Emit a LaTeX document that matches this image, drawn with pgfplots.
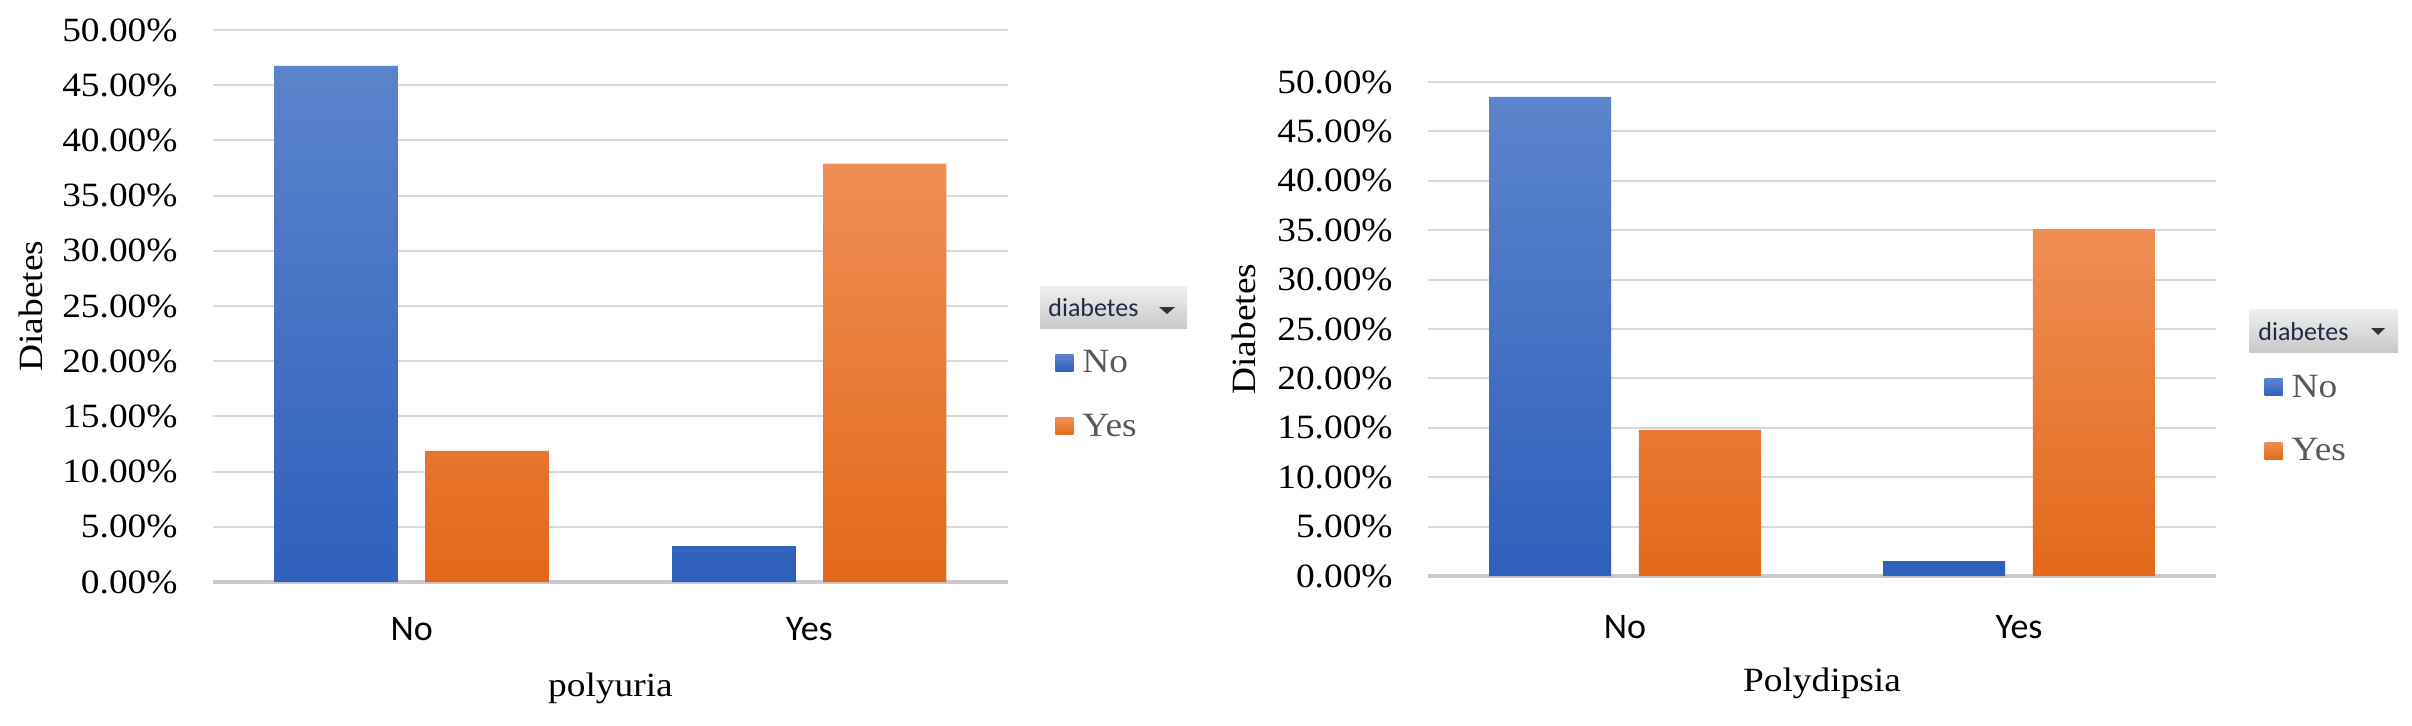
\documentclass[border=0pt]{standalone}
\usepackage{fontspec}
\setmainfont{Liberation Serif}[FakeStretch=1.1]
\newfontfamily\calibri{Carlito}
\usepackage{pgfplots}
\pgfplotsset{compat=1.18}

\definecolor{bluetop}{HTML}{5B84CC}
\definecolor{bluebot}{HTML}{2E60BC}
\definecolor{orgtop}{HTML}{EF8E55}
\definecolor{orgbot}{HTML}{E3691A}
\definecolor{gridc}{HTML}{D9D9D9}
\definecolor{basec}{HTML}{CACACA}
\definecolor{leggray}{HTML}{595959}
\definecolor{hdrtop}{HTML}{F0F0F0}
\definecolor{hdrbot}{HTML}{C8C8C8}
\definecolor{hdrtext}{HTML}{1F2A44}

\pgfplotsset{
  diab/.style={
    scale only axis,
    ymin=0, ymax=50,
    xmin=-0.5, xmax=1.5,
    xtick={0,1}, xticklabels={No,Yes},
    ytick={0,5,...,50},
    yticklabel={\pgfmathprintnumber[fixed,fixed zerofill,precision=2]{\tick}\%},
    /pgf/number format/assume math mode=true,
    axis line style={draw=none},
    major tick length=0pt,
    ymajorgrids,
    grid style={gridc, line width=1pt},
    extra y ticks={0}, extra y tick labels={},
    extra y tick style={grid style={basec, line width=1.6pt}},
    yticklabel style={inner sep=0pt, anchor=east, xshift=-17.5pt,
      font=\fontsize{17}{17}\selectfont},
    xticklabel style={inner sep=0pt, anchor=north,
      font=\calibri\fontsize{18}{18}\selectfont},
    label style={font=\fontsize{17}{17}\selectfont},
    ylabel={Diabetes},
    legend image code/.code={\path[#1, draw=none] (0pt,-4.25pt) rectangle (9pt,4.25pt);},
    legend style={draw=none, fill=none, inner sep=0pt, anchor=north west,
      row sep=19pt, column sep=4.5pt, nodes={inner sep=0pt},
      font=\color{leggray}\fontsize{17}{17}\selectfont},
    legend cell align=left,
  },
  bluebar/.style={ybar, bar width=0.31, bar shift=-0.19, draw=none,
    top color=bluetop, bottom color=bluebot},
  orgbar/.style={ybar, bar width=0.31, bar shift=0.19, draw=none,
    top color=orgtop, bottom color=orgbot},
}

\begin{document}
\begin{tikzpicture}
\useasboundingbox (0,0) rectangle (1206pt,362.5pt);

% polyuria
\begin{axis}[diab, at={(106.5pt,71.5pt)}, anchor=south west,
  width=397.5pt, height=276pt,
  xlabel={polyuria},
  xticklabel style={yshift=-17.5pt},
  xlabel style={at={(axis description cs:0.5,-0.208)}, anchor=base},
  ylabel style={at={(axis description cs:-0.229,0.5)}, anchor=center},
  legend style={at={(axis description cs:1.059,0.420)}}]
\addplot[bluebar] coordinates {(0,46.76) (1,3.24)};
\addplot[orgbar] coordinates {(0,11.88) (1,37.90)};
\legend{No,Yes}
\end{axis}

% Polydipsia
\begin{axis}[diab, at={(714pt,74.5pt)}, anchor=south west,
  width=394pt, height=247pt,
  xlabel={Polydipsia},
  xticklabel style={yshift=-19.5pt},
  xlabel style={at={(axis description cs:0.5,-0.233)}, anchor=base},
  ylabel style={at={(axis description cs:-0.2335,0.5)}, anchor=center},
  legend style={at={(axis description cs:1.061,0.408)}}]
\addplot[bluebar] coordinates {(0,48.5) (1,1.5)};
\addplot[orgbar] coordinates {(0,14.8) (1,35.1)};
\legend{No,Yes}
\end{axis}

% legend headers
\shade[top color=hdrtop, bottom color=hdrbot] (520pt,198.5pt) rectangle (593.5pt,219.5pt);
\node[anchor=west, inner sep=0pt, text=hdrtext, font=\calibri\fontsize{13}{13}\selectfont]
  at (524pt,208.5pt) {diabetes};
\fill[black!80] (579.5pt,209pt) -- (587.5pt,209pt) -- (583.5pt,205.5pt) -- cycle;

\shade[top color=hdrtop, bottom color=hdrbot] (1124.5pt,186.5pt) rectangle (1199pt,208pt);
\node[anchor=west, inner sep=0pt, text=hdrtext, font=\calibri\fontsize{13}{13}\selectfont]
  at (1129pt,196.5pt) {diabetes};
\fill[black!80] (1185.5pt,198.5pt) -- (1192.5pt,198.5pt) -- (1189pt,195pt) -- cycle;
\end{tikzpicture}
\end{document}
